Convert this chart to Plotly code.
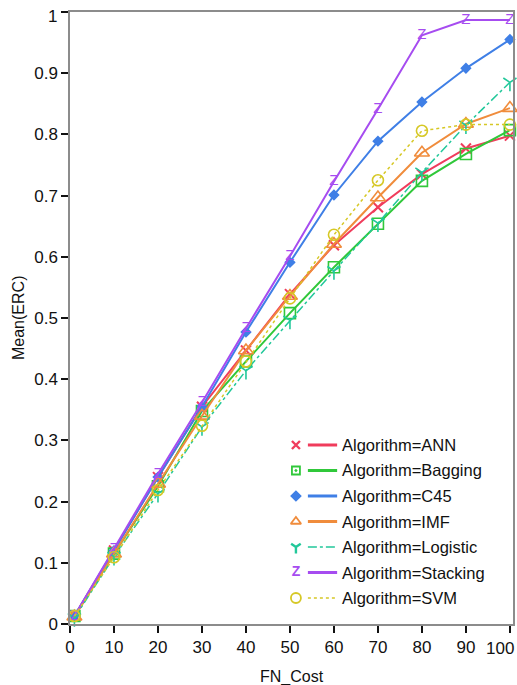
import plotly.graph_objects as go

fn_cost = [1, 10, 20, 30, 40, 50, 60, 70, 80, 90, 100]
ann = [0.013, 0.120, 0.240, 0.355, 0.447, 0.539, 0.619, 0.681, 0.735, 0.777, 0.798]
bagging = [0.013, 0.115, 0.225, 0.348, 0.429, 0.508, 0.583, 0.654, 0.724, 0.768, 0.807]
c45 = [0.013, 0.120, 0.240, 0.355, 0.477, 0.591, 0.701, 0.789, 0.853, 0.908, 0.955]
imf = [0.012, 0.115, 0.229, 0.340, 0.447, 0.536, 0.621, 0.697, 0.770, 0.817, 0.843]
logistic = [0.010, 0.110, 0.213, 0.322, 0.414, 0.496, 0.577, 0.655, 0.738, 0.815, 0.885]
stacking = [0.013, 0.122, 0.245, 0.362, 0.483, 0.601, 0.723, 0.841, 0.962, 0.987, 0.987]
svm = [0.013, 0.109, 0.219, 0.324, 0.429, 0.532, 0.636, 0.725, 0.806, 0.816, 0.816]

names = ["Algorithm=ANN", "Algorithm=Bagging", "Algorithm=C45", "Algorithm=IMF",
         "Algorithm=Logistic", "Algorithm=Stacking", "Algorithm=SVM"]
series = [ann, bagging, c45, imf, logistic, stacking, svm]
x_ticks = [0, 10, 20, 30, 40, 50, 60, 70, 80, 90, 100]
x_ticktext = ["0", "10", "20", "30", "40", "50", "60", "70", "80", "90", ""]   # "100" drawn as annotation
y_ticks = [0, 0.1, 0.2, 0.3, 0.4, 0.5, 0.6, 0.7, 0.8, 0.9, 1]
y_ticktext = ["0", "0.1", "0.2", "0.3", "0.4", "0.5", "0.6", "0.7", "0.8", "0.9", ""]  # "1" drawn as annotation

colors = ["#f03c5c", "#30c83a", "#3f7fe6", "#f08c3c", "#22c89a", "#a64cf0", "#d6c826"]
symbols = ["x-thin-open", "square-open", "diamond", "triangle-up-open", "y-down-open", None, "circle-open"]
msizes = [10, 11, 7, 13, 11, 0, 11]
dashes = ["solid", "solid", "solid", "solid", "dashdot", "solid", "dot"]
lwidths = [2, 2, 2, 2, 1.5, 2, 1.5]
FONT = "Liberation Sans, Arial, sans-serif"
TXT = "#111111"

fig = go.Figure()
for name, vals, col, sym, ms, dsh, lw in zip(names, series, colors, symbols, msizes, dashes, lwidths):
    if sym is None:
        fig.add_trace(go.Scatter(x=fn_cost, y=vals, mode="lines+text", text=["Z"] * len(vals),
                                 textposition="middle center", cliponaxis=False,
                                 textfont=dict(family=FONT, size=15, color=col),
                                 line=dict(color=col, width=lw, dash=dsh), name=name, showlegend=False))
    else:
        fig.add_trace(go.Scatter(x=fn_cost, y=vals, mode="lines+markers", cliponaxis=False,
                                 marker=dict(symbol=sym, size=ms, color=col,
                                             line=dict(color=col, width=2 if "thin" in sym else 1.6)),
                                 line=dict(color=col, width=lw, dash=dsh), name=name, showlegend=False))

# custom legend (marker left of line, text right), positioned in plot-area fractions
leg_top = 0.2925
leg_step = 0.04167
mark_x = 0.510
line_x0, line_x1 = 0.537, 0.603
text_x = 0.609
leg_sym = ["x-thin-open", "square-open-dot", "diamond", "triangle-up-open", "y-down-open", None, "circle-open"]
leg_ms = [8, 8, 7, 9, 8, 0, 10]
for i, (name, col, sym, ms, dsh, lw) in enumerate(zip(names, colors, leg_sym, leg_ms, dashes, lwidths)):
    yy = leg_top - i * leg_step
    if sym is None:
        fig.add_trace(go.Scatter(x=[mark_x], y=[yy], xaxis="x2", yaxis="y2", mode="text", text=["<b>Z</b>"],
                                 textfont=dict(family=FONT, size=14, color=col), showlegend=False,
                                 hoverinfo="skip"))
    else:
        fig.add_trace(go.Scatter(x=[mark_x], y=[yy], xaxis="x2", yaxis="y2", mode="markers",
                                 marker=dict(symbol=sym, size=ms, color=col,
                                             line=dict(color=col, width=2.4 if sym in ("x-thin-open", "y-down-open") else 1.8)),
                                 showlegend=False, hoverinfo="skip"))
    fig.add_trace(go.Scatter(x=[line_x0, line_x1], y=[yy, yy], xaxis="x2", yaxis="y2", mode="lines",
                             line=dict(color=col, width=3 if dsh == "solid" else 1.3, dash=dsh),
                             showlegend=False, hoverinfo="skip"))
    fig.add_annotation(x=text_x, y=yy, xref="x2", yref="y2", text=name, showarrow=False,
                       xanchor="left", yanchor="middle",
                       font=dict(family=FONT, size=16.5, color=TXT))

# edge tick labels, nudged inward to stay inside the picture (as in the reference)
fig.add_annotation(x=1, y=0, xref="paper", yref="paper", xanchor="right", yanchor="middle",
                   xshift=3, yshift=-24, text="100", showarrow=False,
                   font=dict(family=FONT, size=17, color=TXT))
fig.add_annotation(x=0, y=1, xref="paper", yref="paper", xanchor="right", yanchor="middle",
                   xshift=-11, yshift=-4, text="1", showarrow=False,
                   font=dict(family=FONT, size=17, color=TXT))

# axis titles
fig.add_annotation(x=0.5, y=0, xref="paper", yref="paper", yanchor="top", yshift=-42,
                   text="FN_Cost", showarrow=False, font=dict(family=FONT, size=16, color=TXT))
fig.add_annotation(x=0, y=0.5, xref="paper", yref="paper", xanchor="center", xshift=-52,
                   textangle=-90, text="Mean(ERC)", showarrow=False,
                   font=dict(family=FONT, size=16, color=TXT))

axis_common = dict(showline=True, linecolor="#8c8c8c", linewidth=1.5, mirror=True,
                   ticks="outside", tickcolor=TXT, tickwidth=1.5, ticklen=7,
                   showgrid=False, zeroline=False, automargin=False,
                   tickfont=dict(family=FONT, size=17, color=TXT))

fig.update_layout(
    width=517, height=685,
    margin=dict(l=70, r=4, t=12, b=61),
    paper_bgcolor="white", plot_bgcolor="white",
    showlegend=False,
    xaxis=dict(range=[0, 100.7], tickvals=x_ticks, ticktext=x_ticktext, **axis_common),
    yaxis=dict(range=[0, 1.0], tickvals=y_ticks, ticktext=y_ticktext, **axis_common),
    xaxis2=dict(overlaying="x", range=[0, 1], visible=False, fixedrange=True),
    yaxis2=dict(overlaying="y", range=[0, 1], visible=False, fixedrange=True),
)

# remove the default 8px page margin so the 517x685 figure fills the window exactly
fig.write_html("out.html", config={"displayModeBar": False},
               post_script="document.body.style.margin='0';document.body.style.overflow='hidden';")
